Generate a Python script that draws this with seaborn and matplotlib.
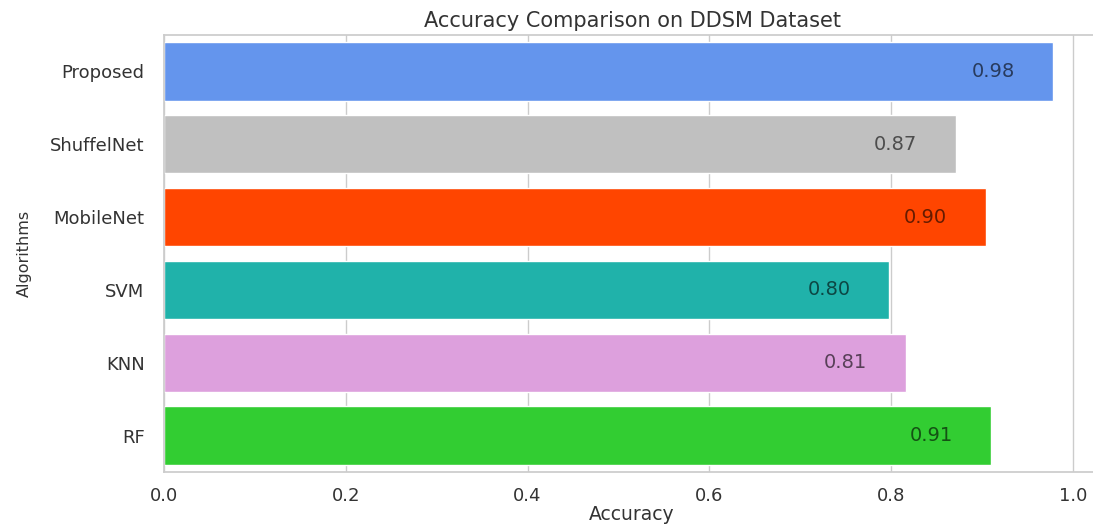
import matplotlib
matplotlib.use("Agg")
import matplotlib.pyplot as plt
import seaborn as sns
import pandas as pd

algorithms = ["Proposed", "ShuffelNet", "MobileNet", "SVM", "KNN", "RF"]
accuracy = [0.978, 0.871, 0.904, 0.798, 0.816, 0.910]
labels = ["0.98", "0.87", "0.90", "0.80", "0.81", "0.91"]
colors = ["cornflowerblue", "silver", "orangered", "lightseagreen", "plum", "limegreen"]

sns.set_theme(style="whitegrid")
plt.rcParams["font.family"] = ["DejaVu Sans"]

df = pd.DataFrame({"Algorithms": algorithms, "Accuracy": accuracy})

fig = plt.figure(figsize=(10.93, 5.26), dpi=100)
ax = fig.add_axes([164/1093, 1-472/526, (1100-164)/1093, (472-35)/526])
sns.barplot(data=df, x="Accuracy", y="Algorithms", hue="Algorithms",
            palette=colors, legend=False, ax=ax, saturation=1)
ax.set_xlim(0, (1100-164)/909)
for i, (v, t) in enumerate(zip(accuracy, labels)):
    ax.text(v - 0.066, i, t, ha="center", va="center", fontsize=14,
            color="black", alpha=0.6)

ax.set_title("Accuracy Comparison on DDSM Dataset", fontsize=15, color="#333333", pad=6)
ax.set_xlabel("Accuracy", fontsize=13.5, color="#333333", labelpad=0)
ax.set_ylabel("Algorithms", fontsize=11.5, color="#333333", labelpad=13)
ax.tick_params(axis="x", labelsize=13, colors="#333333", pad=5)
ax.tick_params(axis="y", labelsize=13, colors="#333333", pad=8)
ax.set_xticks([0.0, 0.2, 0.4, 0.6, 0.8, 1.0])
for s in ax.spines.values():
    s.set_color("#cccccc")
ax.spines["right"].set_visible(False)

fig.savefig("out.png", dpi=100)
